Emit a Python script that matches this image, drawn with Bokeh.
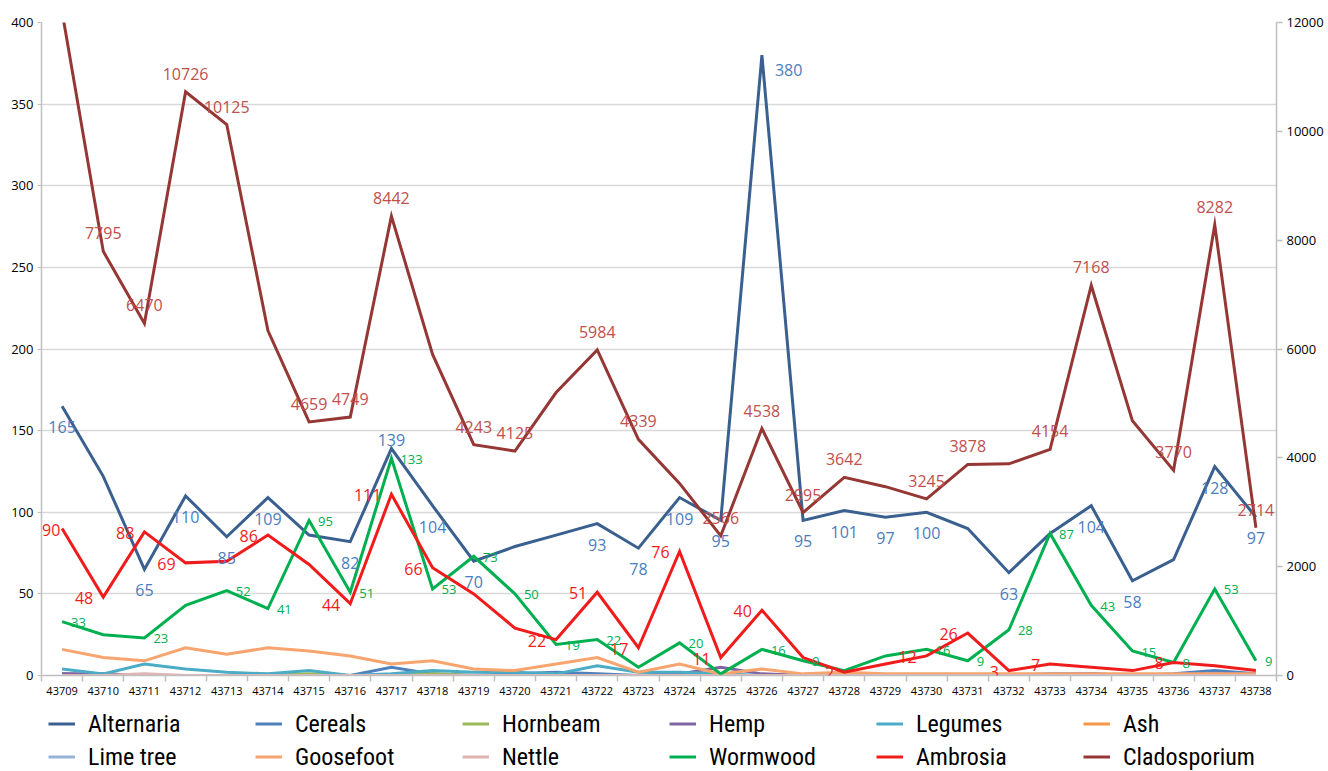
from bokeh.plotting import figure
from bokeh.layouts import column
from bokeh.models import (Range1d, LinearAxis, FixedTicker, ColumnDataSource,
                          LabelSet, Legend, LegendItem)
from bokeh.core.properties import value
from bokeh.embed import file_html
from bokeh.resources import INLINE

# ---------------- data ----------------
dates = list(range(43709, 43739))

alternaria = [165, 122, 65, 110, 85, 109, 86, 82, 139, 104, 70, 79, 86, 93, 78,
              109, 95, 380, 95, 101, 97, 100, 90, 63, 87, 104, 58, 71, 128, 97]
cereals = [1, 0, 0, 0, 0, 0, 0, 0, 5, 1, 0, 1, 2, 1, 0,
           1, 0, 0, 0, 0, 0, 0, 0, 0, 1, 1, 0, 1, 3, 1]
hornbeam = [0, 0, 0, 0, 0, 0, 1, 0, 0, 1, 0, 0, 0, 0, 0,
            0, 0, 0, 0, 0, 0, 0, 0, 0, 0, 0, 0, 0, 0, 0]
hemp = [1, 1, 0, 0, 0, 0, 0, 0, 0, 0, 0, 0, 0, 0, 0,
        1, 5, 1, 0, 0, 0, 0, 0, 0, 0, 1, 0, 0, 1, 0]
legumes = [4, 1, 7, 4, 2, 1, 3, 0, 1, 3, 2, 2, 1, 6, 2,
           2, 1, 0, 0, 0, 0, 0, 0, 0, 0, 0, 0, 0, 0, 0]
ash = [0] * 30
lime_tree = [0] * 30
goosefoot = [16, 11, 9, 17, 13, 17, 15, 12, 7, 9, 4, 3, 7, 11, 2,
             7, 1, 4, 1, 2, 1, 1, 1, 1, 1, 1, 1, 1, 1, 1]
nettle = [0, 0, 1, 0, 0, 0, 0, 0, 0, 0, 0, 0, 0, 0, 0,
          0, 0, 0, 0, 0, 0, 0, 0, 0, 0, 0, 0, 0, 0, 0]
wormwood = [33, 25, 23, 43, 52, 41, 95, 51, 133, 53, 73, 50, 19, 22, 5,
            20, 1, 16, 9, 3, 12, 16, 9, 28, 87, 43, 15, 8, 53, 9]
ambrosia = [90, 48, 88, 69, 70, 86, 68, 44, 111, 66, 50, 29, 22, 51, 17,
            76, 11, 40, 11, 2, 7, 12, 26, 3, 7, 5, 3, 8, 6, 3]
cladosporium = [12200, 7795, 6470, 10726, 10125, 6340, 4659, 4749, 8442, 5900,
                4243, 4125, 5200, 5984, 4339, 3530, 2566, 4538, 2995, 3642,
                3470, 3245, 3878, 3890, 4154, 7168, 4680, 3770, 8282, 2714]

names = ["Alternaria", "Cereals", "Hornbeam", "Hemp", "Legumes", "Ash",
         "Lime tree", "Goosefoot", "Nettle", "Wormwood", "Ambrosia", "Cladosporium"]
series = [alternaria, cereals, hornbeam, hemp, legumes, ash,
          lime_tree, goosefoot, nettle, wormwood, ambrosia, cladosporium]
colors = ["#3A6090", "#4F81BD", "#9BBB59", "#8064A2", "#4BACC6", "#F79646",
          "#95B3D7", "#F7A46E", "#E0B4B3", "#00B050", "#F01C1C", "#953735"]

# which points carry a data label (label text is the value itself)
alt_below = [0, 2, 3, 4, 5, 7, 9, 10, 13, 14, 15, 16, 18, 19, 20, 21, 23, 25, 26, 28, 29]
alt_above = [8]
alt_right = [17]
clad_skip = [0, 5, 9, 12, 15, 20, 23, 26]
amb_left = [1, 2, 3, 5, 7, 8, 9, 12, 13, 14, 15, 16, 17, 19, 21, 22, 23, 24, 27]
amb_edge = [0]
worm_skip = [1, 3, 14, 16, 19, 20]

# ---------------- main figure ----------------
W = 1328
x = list(range(len(dates)))

p = figure(width=W, height=700, output_backend="svg", toolbar_location=None,
           x_range=Range1d(-0.5, len(dates) - 0.5), y_range=Range1d(0, 400),
           min_border_left=41, min_border_right=52, min_border_top=22,
           min_border_bottom=25)
p.extra_y_ranges = {"clad": Range1d(0, 12000)}
p.outline_line_color = None

AX = "#BFBFBF"
xa = p.xaxis[0]
xa.ticker = FixedTicker(ticks=x, minor_ticks=[i - 0.5 for i in range(len(dates) + 1)])
xa.major_label_overrides = {i: str(d) for i, d in enumerate(dates)}
xa.major_tick_out = 0
xa.major_tick_in = 0
xa.minor_tick_out = 6
xa.minor_tick_in = 0
xa.minor_tick_line_color = AX
xa.minor_tick_line_width = 1.5
xa.axis_line_color = AX
xa.axis_line_width = 1.5
xa.major_label_text_font = "Open Sans"
xa.major_label_text_font_size = "11px"
xa.major_label_text_color = "black"
xa.major_label_standoff = 5

ya = p.yaxis[0]
ya.ticker = FixedTicker(ticks=list(range(0, 401, 50)), minor_ticks=[])
ya.axis_line_color = AX
ya.axis_line_width = 1.5
ya.major_tick_line_color = AX
ya.major_tick_out = 4
ya.major_tick_in = 0
ya.minor_tick_out = 0
ya.minor_tick_in = 0
ya.major_label_text_font = "Open Sans"
ya.major_label_text_font_size = "13px"
ya.major_label_text_color = "black"
ya.major_label_standoff = 4

ra = LinearAxis(y_range_name="clad",
                ticker=FixedTicker(ticks=list(range(0, 12001, 2000)), minor_ticks=[]))
ra.axis_line_color = AX
ra.axis_line_width = 1.5
ra.major_tick_line_color = AX
ra.major_tick_line_width = 1.5
ra.major_tick_out = 6
ra.major_tick_in = 0
ra.minor_tick_out = 0
ra.minor_tick_in = 0
ra.major_label_text_font = "Open Sans"
ra.major_label_text_font_size = "13px"
ra.major_label_text_color = "black"
ra.major_label_standoff = 4
p.add_layout(ra, "right")

p.xgrid.visible = False
p.ygrid.ticker = FixedTicker(ticks=list(range(0, 401, 50)))
p.ygrid.grid_line_color = "#D9D9D9"
p.ygrid.grid_line_width = 1.5

for name, vals, col in zip(names, series, colors):
    kw = {"y_range_name": "clad"} if name == "Cladosporium" else {}
    p.line(x, vals, line_color=col, line_width=3, line_join="miter", **kw)


def add_labels(vals, idxs, color, size, align, dx, dy, rng="default"):
    src = ColumnDataSource(dict(x=[i for i in idxs], y=[vals[i] for i in idxs],
                                t=[str(vals[i]) for i in idxs]))
    ls = LabelSet(x="x", y="y", text="t", source=src, x_offset=dx, y_offset=dy,
                  text_align=align, text_baseline="middle", text_color=color,
                  text_font=value("Open Sans"), text_font_size=f"{size}px",
                  y_range_name=rng)
    p.add_layout(ls)


ALT_LBL = "#4A7DBF"
add_labels(alternaria, alt_below, ALT_LBL, 16, "center", 0, -21)
add_labels(alternaria, alt_above, ALT_LBL, 16, "center", 0, 9)
add_labels(alternaria, alt_right, ALT_LBL, 16, "left", 13, -15)
clad_idx = [i for i in x if i not in clad_skip]
add_labels(cladosporium, clad_idx, "#C0504D", 16, "center", 0, 18, rng="clad")
add_labels(ambrosia, amb_left, "#F01C1C", 16, "right", -10, -1)
add_labels(ambrosia, amb_edge, "#F01C1C", 16, "left", -20, -1)
worm_idx = [i for i in x if i not in worm_skip]
add_labels(wormwood, worm_idx, "#00B050", 13, "left", 9, -1)

# ---------------- legend strip ----------------
# (swatch lines hold the series data but the view range keeps them off-screen)
lg = figure(width=W, height=71, output_backend="svg", toolbar_location=None,
            x_range=Range1d(1000, 1001), y_range=Range1d(0, 1), min_border=0,
            x_axis_location=None, y_axis_location=None)
lg.outline_line_color = None
lg.xgrid.visible = False
lg.ygrid.visible = False
items = []
for name, vals, col in zip(names, series, colors):
    r = lg.line(x, vals, line_color=col, line_width=3)
    items.append(LegendItem(label=name, renderers=[r]))

legend = Legend(items=items, orientation="horizontal", ncols=6, location=(7, -2),
                glyph_width=27, glyph_height=33, label_height=33, label_width=167,
                label_standoff=13, spacing=0, padding=0, margin=0,
                border_line_color=None, background_fill_alpha=0,
                label_text_font="Roboto Condensed, DejaVu Sans Condensed, sans-serif",
                label_text_font_size="24px", label_text_color="black")
lg.add_layout(legend, "center")

layout = column(p, lg, spacing=0)
open("out.html", "w").write(file_html(layout, INLINE))
